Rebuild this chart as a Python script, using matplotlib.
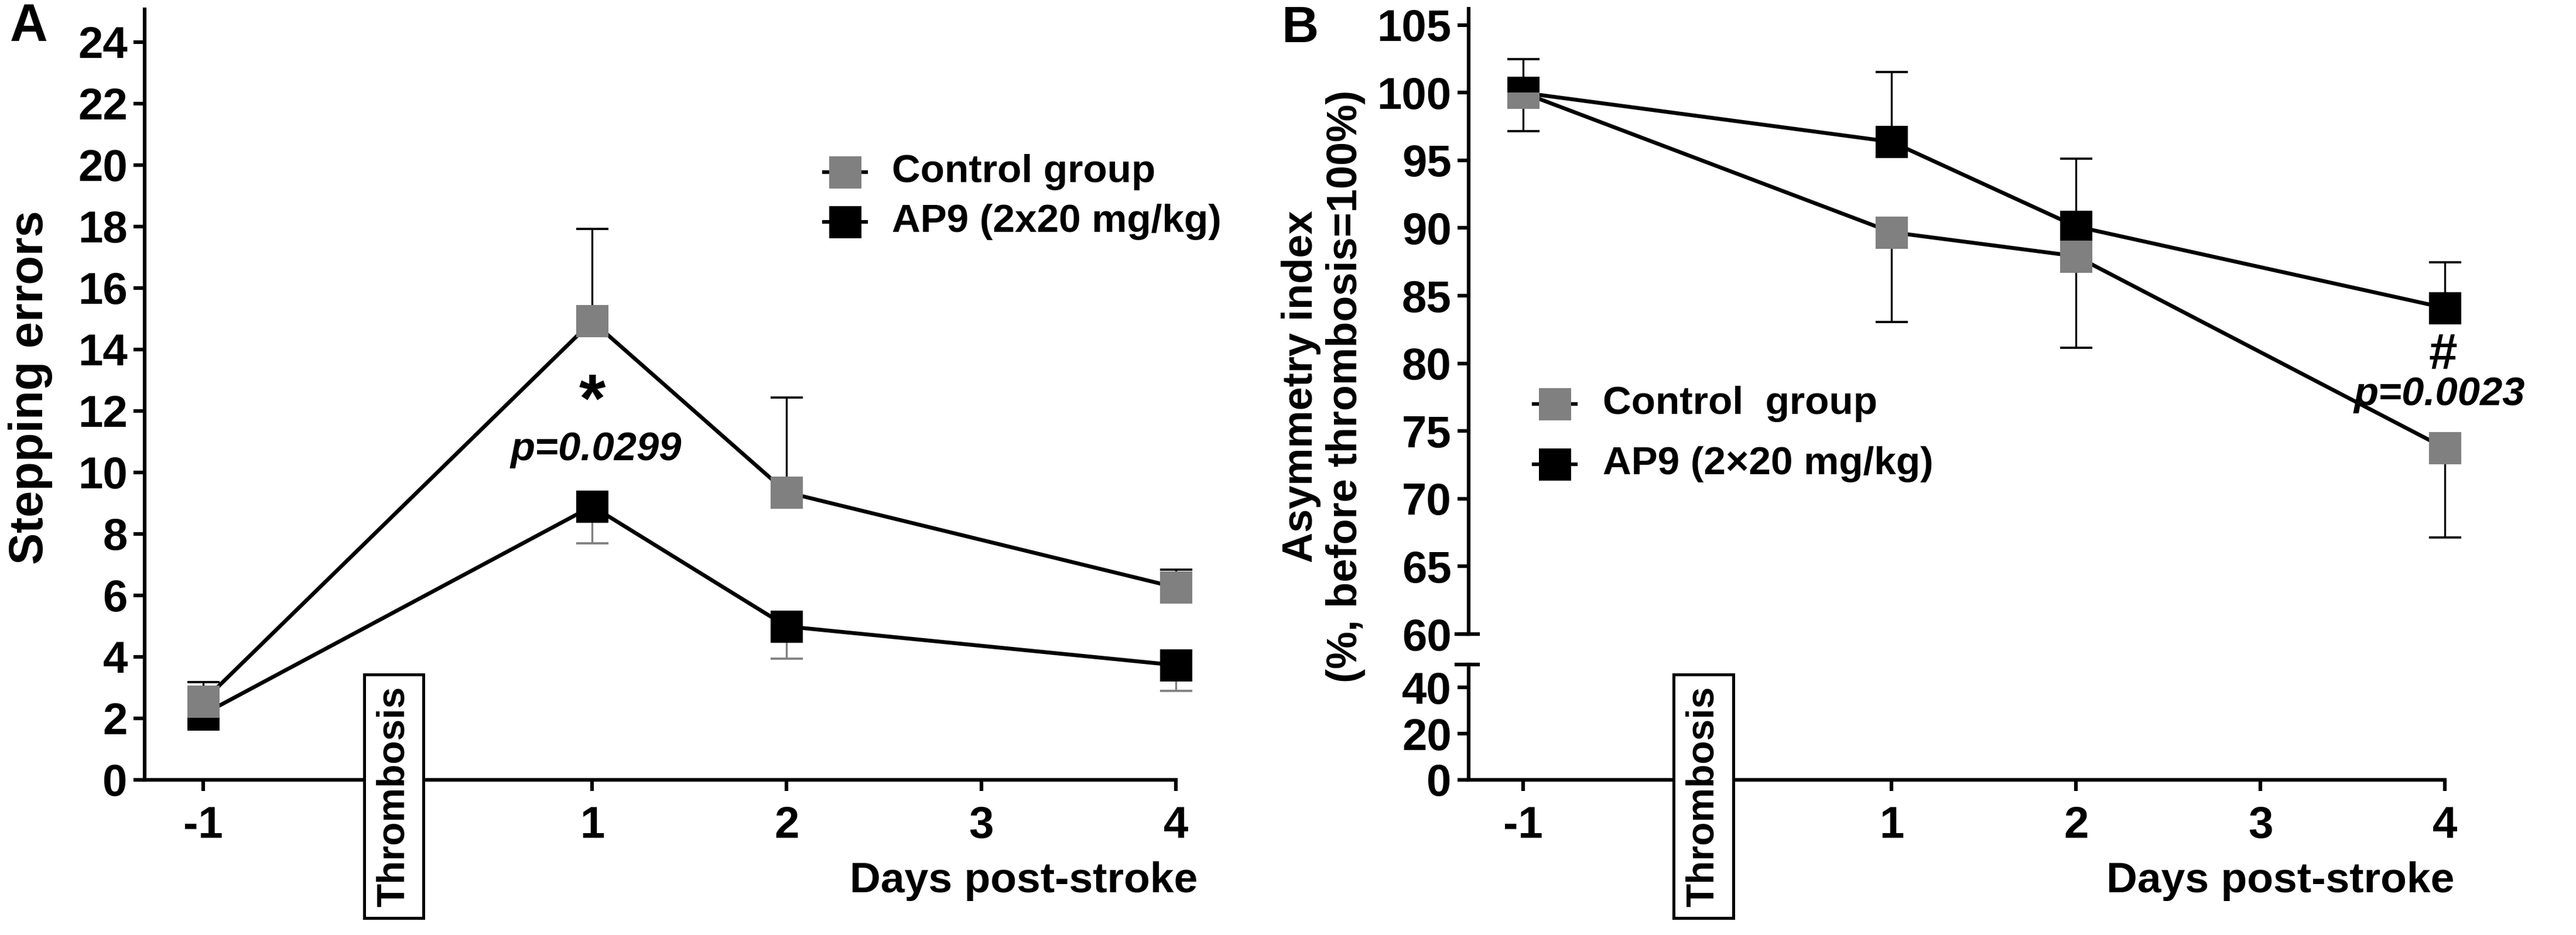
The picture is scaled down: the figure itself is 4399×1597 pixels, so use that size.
import matplotlib
matplotlib.use("Agg")
import matplotlib.pyplot as plt
import matplotlib.transforms as mtransforms
from matplotlib.lines import Line2D

plt.rcParams['font.family'] = ['Liberation Sans', 'DejaVu Sans']
plt.rcParams['font.weight'] = 'bold'
plt.rcParams['mathtext.fontset'] = 'custom'
plt.rcParams['mathtext.bf'] = 'Liberation Sans:bold'
plt.rcParams['mathtext.rm'] = 'Liberation Sans:bold'

# ---- data ----
days = [-1, 1, 2, 4]
day_ticks = [-1, 1, 2, 3, 4]

# A: stepping errors, mean and one-sided error
step_ctrl = [2.55, 14.92, 9.35, 6.26]
step_ctrl_err = [0.63, 3.00, 3.09, 0.58]
step_ap9 = [2.13, 8.90, 4.99, 3.73]
step_ap9_err = [0.30, 1.20, 1.04, 0.83]

# B: asymmetry index (% of pre-thrombosis)
asym_ctrl = [100.0, 89.69, 87.92, 73.74]
asym_ctrl_err = [2.84, 6.65, 6.75, 6.62]
asym_ap9 = [100.0, 96.37, 90.12, 84.10]
asym_ap9_err = [2.48, 5.17, 5.00, 3.39]

legend_a = ['Control group', 'AP9 (2x20 mg/kg)']
legend_b = ['Control  group', 'AP9 (2\u00d720 mg/kg)']

GRAY = '#808080'
W, H = 4399, 1597
TICK = 18.3
MS = 13.2

fig = plt.figure(figsize=(W / 300, H / 300), dpi=300)


def px_box(left, right, top, bottom):
    return [left / W, 1 - bottom / H, (right - left) / W, (bottom - top) / H]


axA = fig.add_axes(px_box(247, 2008, 16, 1332))
axB = fig.add_axes(px_box(2508, 4175, 15, 1083))
axB0 = fig.add_axes(px_box(2508, 4175, 1135, 1332))


def style(ax):
    for s in ['top', 'right']:
        ax.spines[s].set_visible(False)
    for s in ['left', 'bottom']:
        ax.spines[s].set_linewidth(1.5)
    ax.tick_params(width=1.5, length=4.6, labelsize=TICK)
    ax.tick_params(axis='y', pad=2.4)
    ax.tick_params(axis='x', pad=6)


def series(ax, y, lo, hi, mcolor, ecolor, z, mark=True):
    ax.errorbar(days, y, yerr=[lo, hi], fmt='none', ecolor=ecolor,
                elinewidth=0.8, capsize=6.6, capthick=0.9, zorder=z, clip_on=False)
    if mark:
        ax.plot(days, y, color='black', lw=1.6, marker='s', ms=MS, mfc=mcolor,
                mec=mcolor, mew=0, zorder=z + 0.5, clip_on=False)
    else:
        ax.plot(days, y, color='black', lw=1.6, zorder=z + 0.5, clip_on=False)


zeros = [0, 0, 0, 0]

# ---- panel A ----
style(axA)
series(axA, step_ap9, step_ap9_err, zeros, 'black', GRAY, 3)
series(axA, step_ctrl, zeros, step_ctrl_err, GRAY, 'black', 4)
axA.set_xlim(-1.30, 4.0)
axA.set_ylim(0, 25.06)
axA.set_yticks(range(0, 25, 2))
axA.set_xticks(day_ticks)
axA.set_xticklabels(['-1', '1', '2', '3', '4'])

axA.text(1.0, 12.25, r'$\mathbf{*}$', ha='center', va='center', fontsize=28)
axA.text(1.02, 10.40, 'p=0.0299', ha='center', va='baseline', fontsize=16.5,
         fontweight='bold', fontstyle='italic')

# ---- panel B ----
style(axB)
style(axB0)
axB.spines['bottom'].set_visible(False)
axB.tick_params(axis='x', bottom=False, labelbottom=False)

series(axB, asym_ap9, zeros, asym_ap9_err, 'black', 'black', 3)
series(axB, asym_ctrl, asym_ctrl_err, zeros, GRAY, 'black', 4, mark=False)
axB.plot(days[1:], asym_ctrl[1:], ls='none', marker='s', ms=MS, mfc=GRAY, mec=GRAY,
         mew=0, zorder=4.5, clip_on=False)
axB.plot(days[:1], asym_ctrl[:1], ls='none', marker='s', ms=MS, fillstyle='bottom',
         mfc=GRAY, mfcalt='none', mec='none', mew=0, zorder=4.5, clip_on=False)
axB.set_xlim(-1.294, 4.0)
axB.set_ylim(60, 106.2)
axB.set_yticks(range(60, 106, 5))

axB0.set_xlim(-1.294, 4.0)
axB0.set_ylim(0, 50)
axB0.set_yticks([0, 20, 40])
axB0.set_xticks(day_ticks)
axB0.set_xticklabels(['-1', '1', '2', '3', '4'])

axB.text(3.99, 79.6, '#', ha='center', va='baseline', fontsize=21, fontweight='bold')
axB.text(3.97, 76.9, 'p=0.0023', ha='center', va='baseline', fontsize=16.5,
         fontweight='bold', fontstyle='italic')

# axis break marks
for yb in (1083, 1135):
    fig.add_artist(Line2D([(2508 - 21) / W, (2508 + 16) / W], [1 - yb / H, 1 - yb / H],
                          color='black', lw=1.5))

# ---- thrombosis boxes ----
for ax in (axA, axB0):
    tr = mtransforms.blended_transform_factory(ax.transData, fig.transFigure)
    ax.text(-0.02, 1 - 1360 / H, 'Thrombosis', transform=tr, rotation=90,
            ha='center', va='center', fontsize=15.8, fontweight='bold', zorder=10,
            clip_on=False,
            bbox=dict(boxstyle='square,pad=0.3', fc='white', ec='black', lw=1.2))


# ---- legends ----
def legend(x_mark, x_text, ys, labels):
    for y, lab, c in zip(ys, labels, [GRAY, 'black']):
        fy = 1 - y / H
        fig.add_artist(Line2D([(x_mark - 36) / W, (x_mark + 36) / W], [fy, fy],
                              color='black', lw=1.5))
        fig.add_artist(Line2D([x_mark / W], [fy], ls='none', marker='s', ms=MS,
                              mfc=c, mec=c, mew=0))
        fig.text(x_text / W, fy, lab, ha='left', va='center', fontsize=16.2,
                 fontweight='bold')


legend(1443, 1523, [294, 379], legend_a)
legend(2655, 2737, [690, 793], legend_b)

# ---- labels ----
fig.text(49 / W, 1 - 47 / H, 'A', ha='center', va='center', fontsize=21.5, fontweight='bold')
fig.text(2220 / W, 1 - 49 / H, 'B', ha='center', va='center', fontsize=21, fontweight='bold')
fig.text(52 / W, 1 - 662 / H, 'Stepping errors', rotation=90, ha='center', va='center',
         fontsize=19.5, fontweight='bold')
fig.text(2260 / W, 1 - 660 / H, 'Asymmetry index\n(%, before thrombosis=100%)',
         rotation=90, ha='center', va='center', multialignment='center',
         linespacing=1.15, fontsize=17.3, fontweight='bold')
for xr in (2045, 4191):
    fig.text(xr / W, 1 - 1505 / H, 'Days post-stroke', ha='right', va='center',
             fontsize=17.6, fontweight='bold')

fig.savefig('out.png', dpi=300)
